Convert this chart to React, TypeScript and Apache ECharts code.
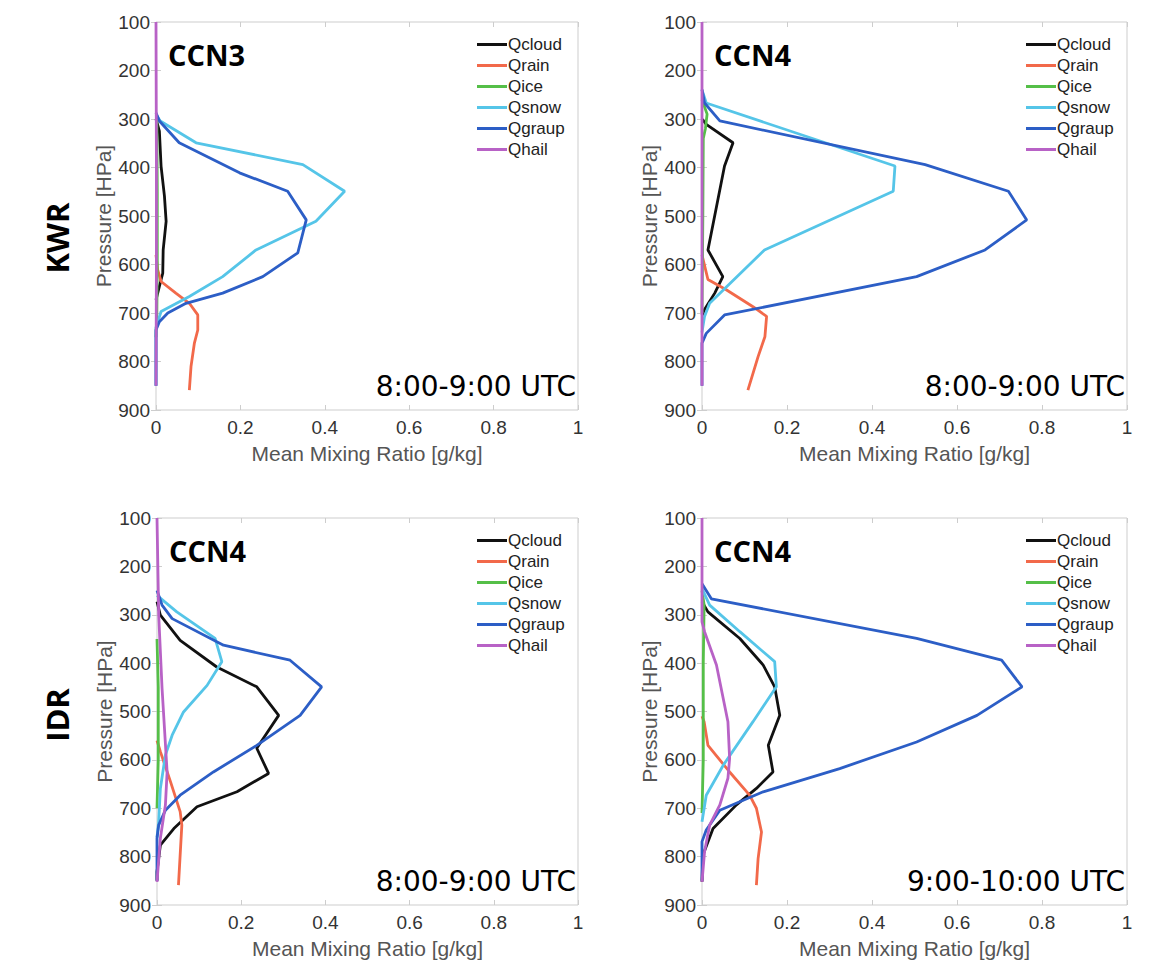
import React, { useEffect, useRef } from "react";
import * as echarts from "echarts";

// ---------- DATA ----------
const seriesNames = ["Qcloud", "Qrain", "Qice", "Qsnow", "Qgraup", "Qhail"];
const seriesColors = ["#111111", "#f2694a", "#55bf48", "#55c5e8", "#2c5ec6", "#b862c6"];
const xTickLabels = ["0", "0.2", "0.4", "0.6", "0.8", "1"];
const rowLabels = ["KWR", "IDR"];
const panelTitles = ["CCN3", "CCN4", "CCN4", "CCN4"];
const panelTimes = ["8:00-9:00 UTC", "8:00-9:00 UTC", "8:00-9:00 UTC", "9:00-10:00 UTC"];

// Panel 1: KWR CCN3 8-9 UTC  ([mixing ratio g/kg, pressure hPa])
const p1Cloud = [[0, 300], [0.008, 325], [0.012, 397], [0.02, 459], [0.024, 511], [0.017, 570], [0.016, 618], [0.008, 645], [0, 673]];
const p1Rain = [[0, 580], [0.004, 611], [0.012, 635], [0.047, 659], [0.079, 680], [0.099, 704], [0.099, 735], [0.091, 762], [0.083, 810], [0.079, 859]];
const p1Ice = [[0.002, 300], [0.003, 450], [0.003, 600], [0.002, 700], [0, 750]];
const p1Snow = [[0, 290], [0.01, 304], [0.095, 349], [0.348, 394], [0.447, 449], [0.379, 511], [0.237, 570], [0.158, 625], [0.079, 666], [0.012, 697], [0, 730], [0, 850]];
const p1Graup = [[0, 287], [0.008, 304], [0.055, 349], [0.198, 411], [0.312, 449], [0.356, 508], [0.336, 576], [0.253, 625], [0.158, 659], [0.071, 680], [0.028, 700], [0.008, 718], [0, 735], [0, 850]];
const p1Hail = [[0, 100], [0.001, 400], [0.001, 600], [0, 850]];

// Panel 2: KWR CCN4 8-9 UTC
const p2Cloud = [[0, 300], [0.01, 311], [0.073, 349], [0.053, 397], [0.014, 570], [0.049, 625], [0.03, 659], [0.006, 693], [0, 705]];
const p2Rain = [[0, 580], [0.014, 631], [0.057, 652], [0.12, 687], [0.152, 707], [0.148, 749], [0.132, 790], [0.108, 859]];
const p2Ice = [[0, 260], [0.012, 290], [0.008, 320], [0.003, 340], [0.002, 500], [0, 700]];
const p2Snow = [[0, 240], [0.01, 267], [0.454, 397], [0.45, 449], [0.147, 570], [0.018, 680], [0.006, 707], [0, 740]];
const p2Graup = [[0, 239], [0.006, 267], [0.042, 304], [0.525, 394], [0.721, 449], [0.764, 508], [0.666, 570], [0.505, 625], [0.053, 704], [0.01, 742], [0, 762], [0, 850]];
const p2Hail = [[0, 100], [0, 850]];

// Panel 3: IDR CCN4 8-9 UTC
const p3Cloud = [[0, 273], [0.008, 301], [0.055, 353], [0.142, 408], [0.237, 449], [0.289, 508], [0.237, 576], [0.265, 628], [0.19, 666], [0.095, 697], [0.04, 742], [0.008, 776], [0, 831], [0, 850]];
const p3Rain = [[0, 560], [0.008, 583], [0.032, 645], [0.055, 707], [0.059, 735], [0.051, 859]];
const p3Ice = [[0, 350], [0.003, 450], [0.003, 600], [0, 700]];
const p3Snow = [[0, 260], [0.047, 294], [0.138, 349], [0.154, 397], [0.119, 446], [0.063, 501], [0.036, 549], [0.02, 590], [0.008, 659], [0.004, 728], [0, 760]];
const p3Graup = [[0, 250], [0.012, 280], [0.036, 308], [0.158, 363], [0.316, 394], [0.391, 449], [0.34, 508], [0.237, 570], [0.134, 625], [0.055, 673], [0.02, 704], [0.004, 735], [0, 762], [0, 850]];
const p3Hail = [[0, 100], [0.004, 300], [0.012, 452], [0.024, 625], [0.02, 693], [0.008, 762], [0, 852]];

// Panel 4: IDR CCN4 9-10 UTC
const p4Cloud = [[0, 273], [0.014, 294], [0.089, 349], [0.144, 404], [0.171, 449], [0.183, 508], [0.156, 570], [0.167, 625], [0.128, 659], [0.081, 693], [0.026, 742], [0.002, 797], [0, 852]];
const p4Rain = [[0, 510], [0.005, 521], [0.014, 570], [0.065, 625], [0.112, 673], [0.128, 700], [0.14, 749], [0.132, 804], [0.128, 859]];
const p4Ice = [[0, 250], [0.005, 280], [0.003, 400], [0.003, 600], [0, 710]];
const p4Snow = [[0, 246], [0.018, 280], [0.089, 335], [0.171, 397], [0.175, 449], [0.12, 521], [0.05, 611], [0.01, 673], [0, 728]];
const p4Graup = [[0, 236], [0.022, 267], [0.505, 349], [0.705, 394], [0.753, 449], [0.647, 508], [0.505, 563], [0.324, 618], [0.144, 666], [0.042, 704], [0.01, 745], [0, 769], [0, 850]];
const p4Hail = [[0, 100], [0, 315], [0.006, 335], [0.034, 404], [0.061, 521], [0.065, 597], [0.061, 638], [0.042, 693], [0.018, 735], [0.006, 790], [0, 852]];

const panelData = [
  [p1Cloud, p1Rain, p1Ice, p1Snow, p1Graup, p1Hail],
  [p2Cloud, p2Rain, p2Ice, p2Snow, p2Graup, p2Hail],
  [p3Cloud, p3Rain, p3Ice, p3Snow, p3Graup, p3Hail],
  [p4Cloud, p4Rain, p4Ice, p4Snow, p4Graup, p4Hail],
];

// ---------- LAYOUT ----------
const gridBoxes = [
  { left: 156, top: 22, width: 422, height: 388 },
  { left: 702, top: 22, width: 425, height: 388 },
  { left: 157, top: 518, width: 421, height: 387 },
  { left: 702, top: 518, width: 425, height: 387 },
];

const AXIS_FONT = "'Liberation Sans', Arial, sans-serif";
const LABEL_FONT = "'Open Sans', sans-serif";
const TIME_FONT = "'DejaVu Sans', sans-serif";
const FRAME = "#cdcdcd";

function buildOption() {
  const grid: any[] = [];
  const xAxis: any[] = [];
  const yAxis: any[] = [];
  const series: any[] = [];
  const legend: any[] = [];
  const graphic: any[] = [];

  gridBoxes.forEach((g, i) => {
    grid.push({ ...g, show: true, borderColor: FRAME, borderWidth: 1, backgroundColor: "#fff" });
    const tick = { show: true, inside: true, length: 5, lineStyle: { color: FRAME } };
    xAxis.push({
      gridIndex: i, type: "value", min: 0, max: 1, interval: 0.2, position: "bottom",
      axisLine: { show: false }, axisTick: tick, splitLine: { show: false },
      axisLabel: {
        fontSize: 19, color: "#333", fontFamily: AXIS_FONT, margin: 8,
        formatter: (v: number) => xTickLabels[Math.round(v / 0.2)] ?? String(v),
      },
      name: "Mean Mixing Ratio [g/kg]", nameLocation: "middle", nameGap: 33,
      nameTextStyle: { fontSize: 21, color: "#555", fontFamily: AXIS_FONT },
    });
    xAxis.push({
      gridIndex: i, type: "value", min: 0, max: 1, interval: 0.2, position: "top",
      axisLine: { show: false }, axisTick: tick, splitLine: { show: false }, axisLabel: { show: false },
    });
    yAxis.push({
      gridIndex: i, type: "value", min: 100, max: 900, interval: 100, inverse: true, position: "left",
      axisLine: { show: false }, axisTick: tick, splitLine: { show: false },
      axisLabel: { fontSize: 19, color: "#333", fontFamily: AXIS_FONT, margin: 6 },
      name: "Pressure [HPa]", nameLocation: "middle", nameGap: 42,
      nameTextStyle: { fontSize: 21, color: "#555", fontFamily: AXIS_FONT },
    });
    yAxis.push({
      gridIndex: i, type: "value", min: 100, max: 900, interval: 100, inverse: true, position: "right",
      axisLine: { show: false }, axisTick: tick, splitLine: { show: false }, axisLabel: { show: false },
    });

    panelData[i].forEach((d, k) => {
      series.push({
        type: "line", name: seriesNames[k], xAxisIndex: 2 * i, yAxisIndex: 2 * i,
        data: d, symbol: "none", showSymbol: false, clip: false,
        lineStyle: { width: 2.8, color: seriesColors[k] }, itemStyle: { color: seriesColors[k] },
        z: 2 + k,
      });
    });

    legend.push({
      orient: "vertical", left: g.left + g.width - 101, top: g.top + 14,
      itemWidth: 30, itemHeight: 3, itemGap: 4, padding: 0, selectedMode: false,
      icon: "rect",
      data: seriesNames,
      textStyle: { fontSize: 17, lineHeight: 17, color: "#222", fontFamily: AXIS_FONT, padding: [0, 0, 0, -4] },
    });

    graphic.push({
      type: "text", left: g.left + 12, top: g.top + 18,
      style: { text: panelTitles[i], font: `bold 29px ${LABEL_FONT}`, fill: "#000" },
    });
    graphic.push({
      type: "text", right: 1159 - (g.left + g.width - 2), top: g.top + g.height - 38,
      style: { text: panelTimes[i], font: `28px ${TIME_FONT}`, fill: "#000", align: "right" },
    });
  });

  rowLabels.forEach((t, r) => {
    graphic.push({
      type: "text", x: 57, y: r === 0 ? 238 : 715, rotation: Math.PI / 2,
      style: { text: t, font: `bold 31px ${LABEL_FONT}`, fill: "#000", align: "center", verticalAlign: "middle" },
    });
  });

  return { animation: false, backgroundColor: "#fff", grid, xAxis, yAxis, series, legend, graphic };
}

export default function App() {
  const ref = useRef<HTMLDivElement>(null);
  useEffect(() => {
    if (!ref.current) return;
    const chart = echarts.init(ref.current, undefined, { renderer: "svg" });
    chart.setOption(buildOption() as any);
    return () => chart.dispose();
  }, []);
  return (
    <div
      ref={ref}
      style={{ position: "fixed", left: 0, top: 0, width: 1159, height: 962, background: "#fff" }}
    />
  );
}
